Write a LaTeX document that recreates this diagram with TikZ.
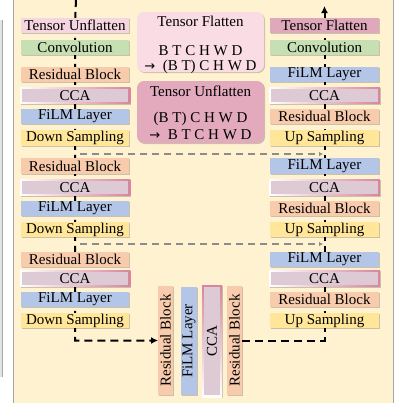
\documentclass[tikz,border=0pt]{standalone}
\usepackage{fontspec}
\setmainfont{Liberation Serif}
\newfontfamily\dejavu{DejaVu Sans}
\usetikzlibrary{arrows.meta,shadows,backgrounds}
\definecolor{cream}{HTML}{FFF2D0}
\definecolor{unflC}{HTML}{F5D5E0}
\definecolor{flatC}{HTML}{DFA9BB}
\definecolor{convC}{HTML}{C6E0B4}
\definecolor{resC}{HTML}{F8CBAD}
\definecolor{filmC}{HTML}{B4C6E7}
\definecolor{sampC}{HTML}{FFE699}
\definecolor{ccaIn}{HTML}{DDCAD4}
\definecolor{ccaB}{HTML}{D8859E}
\definecolor{tfC}{HTML}{F9DCE4}
\definecolor{tuC}{HTML}{E2AABC}
\definecolor{skipC}{HTML}{8C8C8C}
\tikzset{
  bx/.style={minimum width=108.5pt, minimum height=15.5pt, inner sep=0pt, outer sep=0pt,
    drop shadow={shadow xshift=1pt, shadow yshift=-1pt, opacity=0.2, fill=black}},
  unflb/.style={bx, fill=unflC},
  flatb/.style={bx, fill=flatC},
  convb/.style={bx, fill=convC},
  resb/.style={bx, fill=resC},
  filmb/.style={bx, fill=filmC},
  sampb/.style={bx, fill=sampC},
  ccab/.style={bx, minimum width=110.5pt, minimum height=16.5pt, left color=white, right color=ccaB,
    path picture={\fill[ccaIn] ([xshift=1.8pt,yshift=1.8pt]path picture bounding box.south west)
       rectangle ([xshift=-1.8pt,yshift=-1.8pt]path picture bounding box.north east);}},
  vres/.style={resb, rotate=90, minimum width=109pt, minimum height=15pt},
  vfilm/.style={filmb, rotate=90, minimum width=108pt, minimum height=16pt},
  vcca/.style={bx, minimum width=20pt, minimum height=112pt, top color=ccaB, bottom color=white,
    path picture={\fill[ccaIn] ([xshift=1.8pt,yshift=1.8pt]path picture bounding box.south west)
       rectangle ([xshift=-1.8pt,yshift=-1.8pt]path picture bounding box.north east);}},
  midbox/.style={minimum width=127pt, inner sep=0pt, rounded corners=7pt,
    drop shadow={shadow xshift=1pt, shadow yshift=-1pt, opacity=0.2, fill=black}},
  mainline/.style={line width=2pt, dash pattern=on 8pt off 5pt, black},
  skipline/.style={line width=1.5pt, dash pattern=on 7pt off 5pt, skipC},
  txt/.style={inner sep=0pt, anchor=base},
}
\begin{document}
\begin{tikzpicture}[x=1pt,y=-1pt,font=\fontsize{15}{17}\selectfont]
\useasboundingbox (0,0) rectangle (409,402);
% left column
\node[unflb] (lu) at (75,25.5) {Tensor Unflatten};
\node[convb] (lconv) at (75,47.5) {Convolution};
\node[resb] (lr1) at (75,74.5) {Residual Block};
\node[ccab] (lc1) at (75,95.5) {CCA};
\node[filmb] (lf1) at (75,116.5) {FiLM Layer};
\node[sampb] (ld1) at (75,138) {Down Sampling};
\node[resb] (lr2) at (75,166) {Residual Block};
\node[ccab] (lc2) at (75,187.5) {CCA};
\node[filmb] (lf2) at (75,208.5) {FiLM Layer};
\node[sampb] (ld2) at (75,229.5) {Down Sampling};
\node[resb] (lr3) at (75,259.5) {Residual Block};
\node[ccab] (lc3) at (75,278.5) {CCA};
\node[filmb] (lf3) at (75,299.5) {FiLM Layer};
\node[sampb] (ld3) at (75,320.5) {Down Sampling};
% right column
\node[flatb] (rflat) at (324.5,25.5) {Tensor Flatten};
\node[convb] (rconv) at (324.5,47.5) {Convolution};
\node[filmb] (rf1) at (324.5,74.5) {FiLM Layer};
\node[ccab] (rc1) at (324.5,95.5) {CCA};
\node[resb] (rr1) at (324.5,116.5) {Residual Block};
\node[sampb] (ru1) at (324.5,138) {Up Sampling};
\node[filmb] (rf2) at (324.5,166) {FiLM Layer};
\node[ccab] (rc2) at (324.5,187.5) {CCA};
\node[resb] (rr2) at (324.5,208.5) {Residual Block};
\node[sampb] (ru2) at (324.5,229.5) {Up Sampling};
\node[filmb] (rf3) at (324.5,259.5) {FiLM Layer};
\node[ccab] (rc3) at (324.5,278.5) {CCA};
\node[resb] (rr3) at (324.5,299.5) {Residual Block};
\node[sampb] (ru3) at (324.5,320.5) {Up Sampling};
% bottleneck
\node[vres] (vr1) at (165.5,340.5) {Residual Block};
\node[vfilm] (vf) at (189,341) {FiLM Layer};
\node[vcca] (vc) at (212,341) {};
\node[rotate=90, inner sep=0pt] (vct) at (vc) {CCA};
\node[vres] (vr2) at (234.5,340.5) {Residual Block};
% middle info boxes
\node[midbox, fill=tfC, minimum height=60pt] (tf) at (200.5,42) {};
\node[txt] (tft1) at (200.5,26) {Tensor Flatten};
\node[txt] (tft2) at (200.5,55) {B T C H W D};
\node[txt] (tft3) at (200.5,70) {{\dejavu\fontsize{13}{15}\selectfont →}\ \ (B T) C H W D};
\node[midbox, fill=tuC, minimum height=62pt] (tu) at (200.5,112) {};
\node[txt] (tut1) at (200.5,96) {Tensor Unflatten};
\node[txt] (tut2) at (200.5,122.5) {(B T) C H W D};
\node[txt] (tut3) at (200.5,139) {{\dejavu\fontsize{13}{15}\selectfont →}\ \ B T C H W D};
% coordinates
\coordinate (ltop) at (76,-1);
\coordinate (rtop) at (324.5,6);
\coordinate (s1a) at (80,154);
\coordinate (s1b) at (323,154);
\coordinate (s2a) at (80,244);
\coordinate (s2b) at (323,244);
\begin{scope}[on background layer]
  \fill[gray!22] (-3,20) rectangle (2.5,377);
  \draw[gray!70, line width=1pt] (2.5,20) -- (2.5,377);
  \fill[cream] (13.5,-2) rectangle (393.5,404);
  \draw[gray!70, line width=1.2pt] (13.5,-2) -- (13.5,404);
  \draw[gray!70, line width=1.2pt] (393.5,-2) -- (393.5,404);
  \draw[mainline, -{Latex[length=7pt,width=7pt]}] (ltop) -- (lu.center) -- (lconv.center) -- (lr1.center) -- (lc1.center)
     -- (lf1.center) -- (ld1.center) -- (lr2.center) -- (lc2.center) -- (lf2.center) -- (ld2.center)
     -- (lr3.center) -- (lc3.center) -- (lf3.center) -- (ld3.center) |- (vr1);
  \draw[mainline, -{Latex[length=7pt,width=7pt]}] (vr2) -| (ru3.center) -- (rr3.center) -- (rc3.center) -- (rf3.center)
     -- (ru2.center) -- (rr2.center) -- (rc2.center) -- (rf2.center) -- (ru1.center) -- (rr1.center)
     -- (rc1.center) -- (rf1.center) -- (rconv.center) -- (rflat.center) -- (rtop);
\end{scope}
\draw[skipline, -{Latex[length=4pt,width=4.5pt]}] (s1a) -- (s1b);
\draw[skipline, -{Latex[length=4pt,width=4.5pt]}] (s2a) -- (s2b);
\end{tikzpicture}
\end{document}
